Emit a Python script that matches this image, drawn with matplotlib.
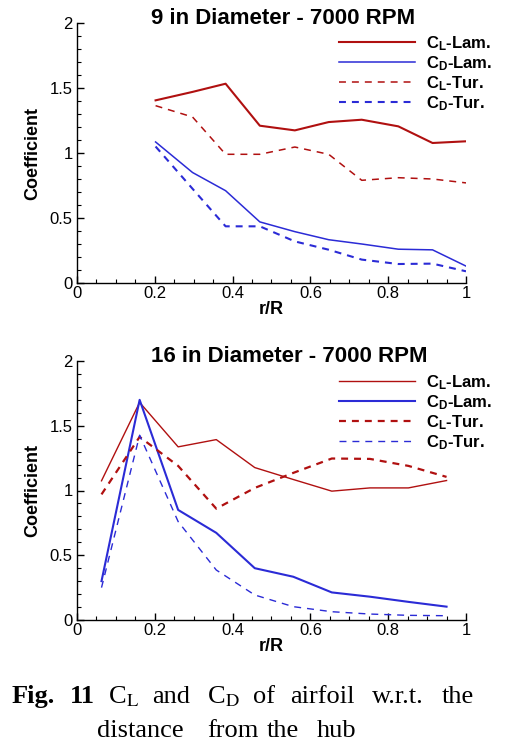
import matplotlib
matplotlib.use("Agg")
import matplotlib.pyplot as plt
from matplotlib.ticker import MultipleLocator, FixedLocator, FixedFormatter

plt.rcParams['font.family'] = ['Liberation Sans', 'DejaVu Sans']
plt.rcParams['mathtext.fontset'] = 'custom'
plt.rcParams['mathtext.rm'] = 'Liberation Sans:bold'
plt.rcParams['mathtext.bf'] = 'Liberation Sans:bold'
plt.rcParams['mathtext.it'] = 'Liberation Sans:bold'
plt.rcParams['lines.scale_dashes'] = False

# ---- data ----
r_9 = [0.202, 0.297, 0.382, 0.470, 0.560, 0.647, 0.732, 0.826, 0.914, 1.0]
cl_lam_9 = [1.405, 1.47, 1.533, 1.21, 1.174, 1.238, 1.256, 1.205, 1.077, 1.09]
cd_lam_9 = [1.085, 0.85, 0.71, 0.47, 0.395, 0.333, 0.30, 0.26, 0.255, 0.13]
cl_tur_9 = [1.364, 1.277, 0.99, 0.99, 1.046, 0.99, 0.79, 0.81, 0.80, 0.77]
cd_tur_9 = [1.05, 0.725, 0.436, 0.436, 0.32, 0.256, 0.18, 0.146, 0.149, 0.09]

r_16 = [0.063, 0.161, 0.260, 0.358, 0.457, 0.556, 0.655, 0.753, 0.852, 0.950]
cl_lam_16 = [1.075, 1.68, 1.337, 1.393, 1.177, 1.085, 0.995, 1.02, 1.02, 1.077]
cd_lam_16 = [0.30, 1.70, 0.85, 0.673, 0.40, 0.334, 0.213, 0.18, 0.14, 0.103]
cl_tur_16 = [0.97, 1.414, 1.19, 0.86, 1.02, 1.136, 1.247, 1.244, 1.19, 1.105]
cd_tur_16 = [0.25, 1.427, 0.76, 0.386, 0.193, 0.103, 0.064, 0.046, 0.036, 0.033]

labels = [r'C$_\mathrm{L}$-Lam.', r'C$_\mathrm{D}$-Lam.', r'C$_\mathrm{L}$-Tur.', r'C$_\mathrm{D}$-Tur.']
titles = ['9 in Diameter - 7000 RPM', '16 in Diameter - 7000 RPM']
xticks = [0, 0.2, 0.4, 0.6, 0.8, 1.0]
xticklabels = ['0', '0.2', '0.4', '0.6', '0.8', '1']
yticks = [0, 0.5, 1.0, 1.5, 2.0]
yticklabels = ['0', '0.5', '1', '1.5', '2']

RED = '#b01010'
BLUE = '#2b2bd6'
DASH = (5.0, 4.3)

W, H = 510, 750
fig = plt.figure(figsize=(W / 100, H / 100), dpi=100)

def px_axes(left, top, right, bottom):
    return fig.add_axes([left / W, 1 - bottom / H, (right - left) / W, (bottom - top) / H])

ax1 = px_axes(77, 23, 466, 283)
ax2 = px_axes(77, 361, 466, 620)

series = [
    (ax1, r_9, [cl_lam_9, cd_lam_9, cl_tur_9, cd_tur_9], [1.5, 1.1, 1.1, 1.5]),
    (ax2, r_16, [cl_lam_16, cd_lam_16, cl_tur_16, cd_tur_16], [1.0, 1.5, 1.6, 1.0]),
]

for ax, x, ys, lws in series:
    styles = [(RED, '-'), (BLUE, '-'), (RED, '--'), (BLUE, '--')]
    for y, (c, ls), lw, lab in zip(ys, styles, lws, labels):
        if ls == '--':
            ax.plot(x, y, color=c, lw=lw, dashes=DASH, label=lab)
        else:
            ax.plot(x, y, color=c, lw=lw, label=lab)
    ax.set_xlim(0, 1)
    ax.set_ylim(0, 2)
    for s in ['top', 'right']:
        ax.spines[s].set_visible(False)
    for s in ['left', 'bottom']:
        ax.spines[s].set_linewidth(1.0)
    ax.xaxis.set_major_locator(FixedLocator(xticks))
    ax.xaxis.set_major_formatter(FixedFormatter(xticklabels))
    ax.yaxis.set_major_locator(FixedLocator(yticks))
    ax.yaxis.set_major_formatter(FixedFormatter(yticklabels))
    ax.xaxis.set_minor_locator(MultipleLocator(0.05))
    ax.yaxis.set_minor_locator(MultipleLocator(0.1))
    ax.tick_params(which='major', direction='in', length=5, width=1, labelsize=12, pad=2)
    ax.tick_params(which='minor', direction='in', length=3, width=0.8)
    ax.tick_params(axis='y', pad=3)
    ax.set_xlabel('r/R', fontsize=13, fontweight='bold', labelpad=0)
    ax.set_ylabel('Coefficient', fontsize=13, fontweight='bold', labelpad=6)
    ax.patch.set_visible(False)

# legends
leg_tops = [34, 373]
for ax, top in zip([ax1, ax2], leg_tops):
    ax.legend(loc='upper left', bbox_to_anchor=(339 / W, 1 - top / H),
              bbox_transform=fig.transFigure, frameon=False,
              prop={'size': 12, 'weight': 'bold'},
              handlelength=4.55, handletextpad=0.7, labelspacing=0.08,
              borderpad=0, borderaxespad=0)

fig.text(283 / W, 1 - 18 / H, titles[0], ha='center', va='center', fontsize=16, fontweight='bold')
fig.text(289 / W, 1 - 357 / H, titles[1], ha='center', va='center', fontsize=16, fontweight='bold')

# caption
cap_kw = dict(family=['Liberation Serif', 'DejaVu Serif'], fontsize=19, va='baseline', math_fontfamily='stix')
line1 = 703
line2 = 737
fig.text(12 / W, 1 - line1 / H, 'Fig.', fontweight='bold', **cap_kw)
fig.text(70 / W, 1 - line1 / H, '11', fontweight='bold', **cap_kw)
words1 = [(108, r'C$_\mathrm{L}$'), (152, 'and'), (207, r'C$_\mathrm{D}$'), (253, 'of'),
          (290, 'airfoil'), (372, 'w.r.t.'), (442, 'the')]
for xp, w in words1:
    fig.text(xp / W, 1 - line1 / H, w, **cap_kw)
words2 = [(97, 'distance'), (207, 'from'), (267, 'the'), (317, 'hub')]
for xp, w in words2:
    fig.text(xp / W, 1 - line2 / H, w, **cap_kw)

fig.savefig('out.png', dpi=100)
